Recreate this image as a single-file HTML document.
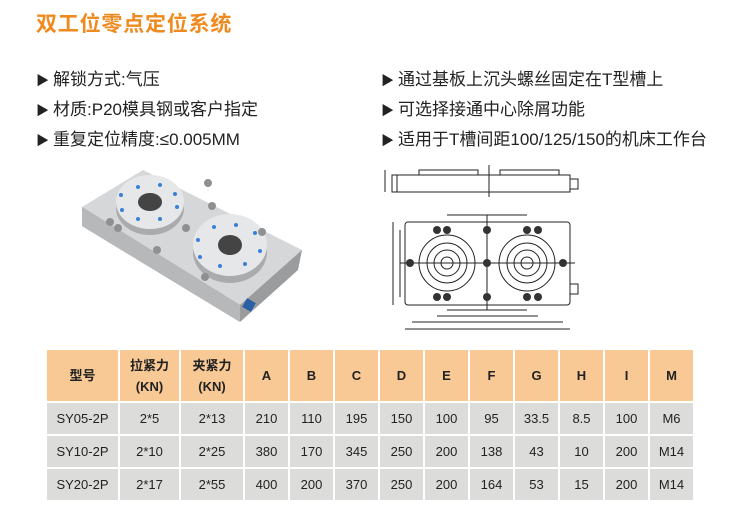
<!DOCTYPE html>
<html><head><meta charset="utf-8"><style>
body{margin:0;width:755px;height:520px;background:#fff;position:relative;overflow:hidden;font-family:"Liberation Sans","Noto Sans CJK SC",sans-serif;}
.t{position:absolute;white-space:nowrap;}
.title{left:36px;top:8px;font-size:21px;font-weight:bold;color:#ef8a1f;letter-spacing:0.8px;}
.li{font-size:17px;color:#222;}
.li span{font-size:13px;margin-right:4px;}
table{position:absolute;left:45px;top:348px;border-collapse:collapse;font-size:13px;color:#222;table-layout:fixed;width:648px;}
td{border:2px solid #fff;text-align:center;padding:0;}
tr.h td{background:#f8c994;height:51px;font-weight:bold;line-height:21px;}
tr.r td{background:#dcdddb;height:31px;}
</style></head><body>
<div class="t title">双工位零点定位系统</div>
<div class="t li" style="left:36px;top:65px"><span>▶</span>解锁方式:气压</div>
<div class="t li" style="left:36px;top:95px"><span>▶</span>材质:P20模具钢或客户指定</div>
<div class="t li" style="left:36px;top:125px"><span>▶</span>重复定位精度:≤0.005MM</div>
<div class="t li" style="left:381px;top:65px"><span>▶</span>通过基板上沉头螺丝固定在T型槽上</div>
<div class="t li" style="left:381px;top:95px"><span>▶</span>可选择接通中心除屑功能</div>
<div class="t li" style="left:381px;top:125px"><span>▶</span>适用于T槽间距100/125/150的机床工作台</div>

<svg style="position:absolute;left:0;top:0" width="755" height="340">
<polygon points="82,207 82,226 240,322 298,270 302,250" fill="#9a9c9e"/>
<polygon points="82,207 143,170 302,250 240,305" fill="#d6d7d8"/>
<polygon points="82,207 240,305 240,322 82,226" fill="#b6b8ba"/>
<ellipse cx="150" cy="208" rx="34" ry="27" fill="#a9abad"/>
<ellipse cx="150" cy="202" rx="34" ry="27" fill="#e6e7e8"/>
<ellipse cx="150" cy="202" rx="12" ry="9" fill="#444"/>
<ellipse cx="230" cy="252" rx="37" ry="31" fill="#a9abad"/>
<ellipse cx="230" cy="245" rx="37" ry="31" fill="#e6e7e8"/>
<ellipse cx="230" cy="245" rx="12" ry="10" fill="#444"/>
<g fill="#3a7fd9">
<circle cx="138" cy="187" r="2"/><circle cx="160" cy="185" r="2"/><circle cx="175" cy="194" r="2"/><circle cx="177" cy="207" r="2"/><circle cx="160" cy="219" r="2"/><circle cx="138" cy="219" r="2"/><circle cx="122" cy="210" r="2"/><circle cx="121" cy="195" r="2"/>
<circle cx="214" cy="227" r="2"/><circle cx="236" cy="225" r="2"/><circle cx="255" cy="233" r="2"/><circle cx="260" cy="251" r="2"/><circle cx="245" cy="264" r="2"/><circle cx="220" cy="266" r="2"/><circle cx="200" cy="257" r="2"/><circle cx="198" cy="240" r="2"/>
</g>
<g fill="#8e9092"><circle cx="110" cy="222" r="4"/><circle cx="118" cy="228" r="4"/><circle cx="186" cy="228" r="4"/><circle cx="157" cy="250" r="4"/><circle cx="205" cy="277" r="4"/><circle cx="208" cy="183" r="4"/><circle cx="212" cy="206" r="4"/><circle cx="262" cy="232" r="4"/></g>
<rect x="244" y="300" width="10" height="10" fill="#2a5fa8" transform="rotate(30 249 305)"/>
<g stroke="#222" fill="none" stroke-width="1">
<rect x="392" y="175" width="178" height="17"/>
<rect x="419" y="170" width="59" height="5"/>
<rect x="500" y="170" width="59" height="5"/>
<line x1="397" y1="175" x2="397" y2="192"/>
<rect x="570" y="179" width="8" height="10"/>
<line x1="489" y1="165" x2="489" y2="197"/>
<line x1="385" y1="170" x2="385" y2="192"/>
<rect x="405" y="222" width="165" height="83" rx="3"/>
<circle cx="447" cy="263" r="28"/><circle cx="447" cy="263" r="20"/><circle cx="447" cy="263" r="13"/><circle cx="447" cy="263" r="6"/>
<circle cx="527" cy="263" r="28"/><circle cx="527" cy="263" r="20"/><circle cx="527" cy="263" r="13"/><circle cx="527" cy="263" r="6"/>
<line x1="400" y1="263" x2="575" y2="263"/>
<line x1="487" y1="215" x2="487" y2="310"/>
<line x1="393" y1="222" x2="393" y2="305"/>
<line x1="400" y1="230" x2="400" y2="297"/>
<line x1="447" y1="215" x2="527" y2="215"/>
<line x1="447" y1="310" x2="527" y2="310"/>
<line x1="437" y1="316" x2="538" y2="316"/>
<line x1="412" y1="322" x2="563" y2="322"/>
<line x1="405" y1="329" x2="570" y2="329"/>
<rect x="570" y="284" width="8" height="10"/>
</g>
<g fill="#333">
<circle cx="437" cy="230" r="4"/><circle cx="447" cy="230" r="4"/><circle cx="487" cy="230" r="4"/><circle cx="527" cy="230" r="4"/><circle cx="538" cy="230" r="4"/>
<circle cx="437" cy="297" r="4"/><circle cx="447" cy="297" r="4"/><circle cx="487" cy="297" r="4"/><circle cx="527" cy="297" r="4"/><circle cx="538" cy="297" r="4"/>
<circle cx="410" cy="263" r="4"/><circle cx="487" cy="263" r="4"/><circle cx="563" cy="263" r="4"/>
</g>
</svg>

<table>
<colgroup><col style="width:73px"><col style="width:61px"><col style="width:64px"><col style="width:45px"><col style="width:45px"><col style="width:45px"><col style="width:45px"><col style="width:45px"><col style="width:45px"><col style="width:45px"><col style="width:45px"><col style="width:45px"><col style="width:45px"></colgroup>
<tr class="h"><td>型号</td><td>拉紧力<br>(KN)</td><td>夹紧力<br>(KN)</td><td>A</td><td>B</td><td>C</td><td>D</td><td>E</td><td>F</td><td>G</td><td>H</td><td>I</td><td>M</td></tr>
<tr class="r"><td>SY05-2P</td><td>2*5</td><td>2*13</td><td>210</td><td>110</td><td>195</td><td>150</td><td>100</td><td>95</td><td>33.5</td><td>8.5</td><td>100</td><td>M6</td></tr>
<tr class="r"><td>SY10-2P</td><td>2*10</td><td>2*25</td><td>380</td><td>170</td><td>345</td><td>250</td><td>200</td><td>138</td><td>43</td><td>10</td><td>200</td><td>M14</td></tr>
<tr class="r"><td>SY20-2P</td><td>2*17</td><td>2*55</td><td>400</td><td>200</td><td>370</td><td>250</td><td>200</td><td>164</td><td>53</td><td>15</td><td>200</td><td>M14</td></tr>
</table>
</body></html>
